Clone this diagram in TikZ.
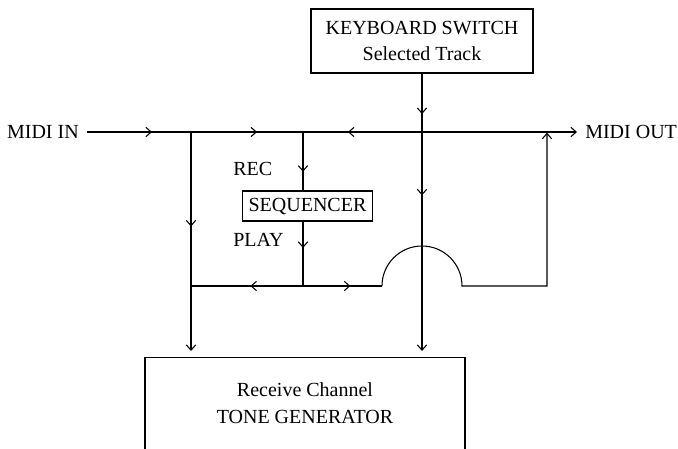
\documentclass[tikz,border=0pt]{standalone}
\usepackage{fontspec}
\setmainfont{Liberation Serif}
\usetikzlibrary{arrows.meta,decorations.markings}
\tikzset{
  wire/.style={line width=0.8pt},
  barb/.style={-{Straight Barb[length=4pt,width=7pt]}},
  ma/.style={postaction={decorate,decoration={markings,mark=at position #1 with {\arrow{Straight Barb[length=4pt,width=7pt]}}}}},
  box/.style={draw,line width=0.8pt,inner sep=0pt,align=center},
  lbl/.style={inner sep=0pt,font=\fontsize{15}{20}\selectfont}
}
\begin{document}
\begin{tikzpicture}[x=0.75pt,y=-0.75pt,font=\fontsize{15}{20}\selectfont]
\useasboundingbox (0,0) rectangle (678,449);
\clip (0,0) rectangle (678,449);
% nodes
\node[box,minimum width=166.5pt,minimum height=48pt] (kb) at (422,41) {KEYBOARD SWITCH\\[-1pt]Selected Track};
\node[box,minimum width=98pt,minimum height=22.5pt] (seq) at (307.5,206) {SEQUENCER};
\node[box,anchor=north,minimum width=240pt,minimum height=100pt] (tone) at (305,357) {};
\node[lbl,align=center] (tonetext) at (305,403) {Receive Channel\\[0.5pt]TONE GENERATOR};
\node[lbl,anchor=east,inner xsep=6pt] (in) at (87,132) {MIDI IN};
\node[lbl,anchor=west,inner xsep=6pt] (out) at (577,132) {MIDI OUT};
\node[lbl,anchor=west] (rec) at (233,169) {REC};
\node[lbl,anchor=west] (play) at (233,240) {PLAY};
% junctions
\coordinate (j1) at (191,132);
\coordinate (j2) at (303,132);
\coordinate (j4) at (547,132);
\coordinate (b1) at (191,286);
\coordinate (b2) at (303,286);
\coordinate (a1) at (382,286);
\coordinate (c4) at (547,286);
% main line
\draw[wire,ma=0.625] (in.east) -- (j1);
\draw[wire,ma=0.59] (j1) -- (j2);
\draw[wire,ma=0.816] (j4) -- (j2);
\draw[wire,barb] (j4) -- (out.west);
% left vertical to tone generator
\draw[wire,barb,ma=0.42,shorten >=4.5pt] (j1) -- (j1 |- tone.north);
% sequencer
\draw[wire,ma=0.68] (j2) -- (j2 |- seq.north);
\draw[wire,ma=0.41] (j2 |- seq.south) -- (b2);
% bottom line
\draw[wire,ma=0.47] (b2) -- (b1);
\draw[wire,ma=0.6] (b2) -- (a1);
\draw[wire,barb,shorten >=0.5pt] (a1) arc[start angle=180,end angle=360,radius=40] -- (c4) -- (j4);
% keyboard switch line
\draw[wire,barb,ma=0.143,ma=0.43,shorten >=4.5pt] (kb.south) -- (kb.south |- tone.north);
\end{tikzpicture}
\end{document}
